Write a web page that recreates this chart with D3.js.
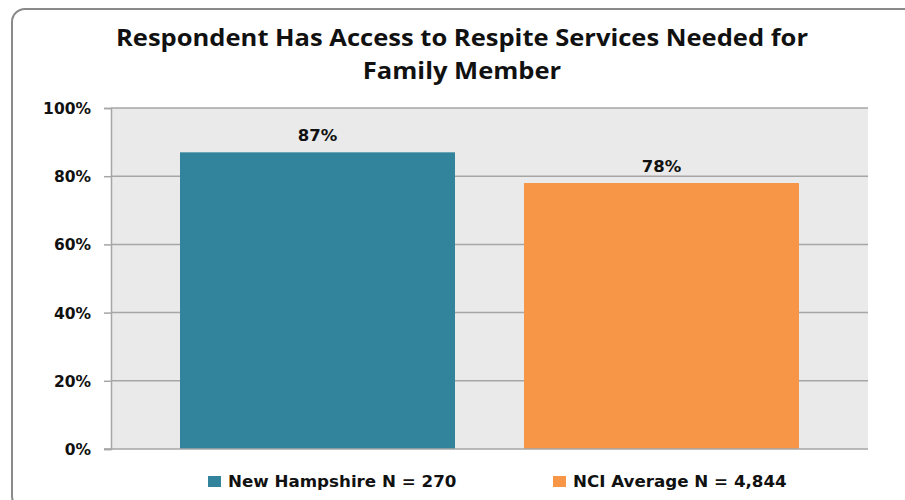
<!DOCTYPE html>
<html><head><meta charset="utf-8">
<script src="https://cdn.jsdelivr.net/npm/d3@7"></script>
<style>html,body{margin:0;padding:0;background:#fff;}svg{display:block;}</style>
</head><body>
<svg id="c" width="905" height="500"></svg>
<script>
const titleLines = ["Respondent Has Access to Respite Services Needed for", "Family Member"];
const series = ["New Hampshire N = 270", "NCI Average N = 4,844"];
const values = [87, 78];
const colors = ["#31849B", "#F79646"];
const yTicks = [0, 20, 40, 60, 80, 100];

const svg = d3.select("#c");
const W = 905, H = 500;
const plot = {left: 111, right: 868, top: 108, bottom: 449};

// outer frame
svg.append("rect").attr("x", 12).attr("y", 9).attr("width", 905).attr("height", 500)
  .attr("rx", 13).attr("ry", 13).attr("fill", "#fff").attr("stroke", "#8a8a8a").attr("stroke-width", 2);

// title
const tg = svg.append("g").attr("font-family", "'Open Sans', sans-serif").attr("font-weight", 700)
  .attr("font-size", 24).attr("fill", "#111").attr("text-anchor", "middle");
const t1 = tg.append("text").attr("x", 462).attr("y", 46).text(titleLines[0]);
const nat1 = t1.node().getComputedTextLength();
const ratio = 692 / nat1;
t1.attr("textLength", 692).attr("lengthAdjust", "spacingAndGlyphs");
const t2 = tg.append("text").attr("x", 462).attr("y", 79).text(titleLines[1]);
const nat2 = t2.node().getComputedTextLength();
t2.attr("textLength", nat2 * ratio).attr("lengthAdjust", "spacingAndGlyphs");

// scales
const y = d3.scaleLinear().domain([0, 100]).range([plot.bottom, plot.top]);
const x = d3.scaleBand().domain(series).range([plot.left, plot.right]).paddingInner(0.2006).paddingOuter(0.2006);

// plot bg
svg.append("rect").attr("x", plot.left).attr("y", plot.top)
  .attr("width", plot.right - plot.left).attr("height", plot.bottom - plot.top).attr("fill", "#EAEAEA");

// gridlines
svg.append("g").selectAll("line").data(yTicks.filter(d => d > 0)).join("line")
  .attr("x1", plot.left).attr("x2", plot.right)
  .attr("y1", d => y(d)).attr("y2", d => y(d))
  .attr("stroke", "#A6A6A6").attr("stroke-width", 1.5);

// y axis
const yAxis = d3.axisLeft(y).tickValues(yTicks).tickFormat(d => d + "%").tickSize(7).tickPadding(13);
const ya = svg.append("g").attr("transform", `translate(${plot.left},0)`).call(yAxis);
ya.select(".domain").attr("stroke", "#A6A6A6").attr("stroke-width", 1.5);
ya.selectAll(".tick line").attr("stroke", "#A6A6A6").attr("stroke-width", 1.5);
ya.selectAll(".tick text").attr("font-family", "'DejaVu Sans', sans-serif").attr("font-weight", 700)
  .attr("font-size", 15.5).attr("fill", "#111").attr("dy", "0.35em");

// bars
svg.append("g").selectAll("rect").data(values).join("rect")
  .attr("x", (d, i) => x(series[i])).attr("width", x.bandwidth())
  .attr("y", d => y(d)).attr("height", d => plot.bottom - y(d))
  .attr("fill", (d, i) => colors[i]);

// bottom axis line
svg.append("line").attr("x1", plot.left - 7).attr("x2", plot.right)
  .attr("y1", plot.bottom).attr("y2", plot.bottom).attr("stroke", "#A6A6A6").attr("stroke-width", 1.5);

// data labels
svg.append("g").selectAll("text").data(values).join("text")
  .attr("x", (d, i) => x(series[i]) + x.bandwidth() / 2).attr("y", d => y(d) - 11)
  .attr("text-anchor", "middle").attr("font-family", "'DejaVu Sans', sans-serif").attr("font-weight", 700)
  .attr("font-size", 16.5).attr("fill", "#111").text(d => d + "%");

// legend
const legX = [208, 553];
const lg = svg.append("g");
series.forEach((s, i) => {
  lg.append("rect").attr("x", legX[i]).attr("y", 476).attr("width", 13).attr("height", 11).attr("fill", colors[i]);
  lg.append("text").attr("x", legX[i] + 20).attr("y", 487).attr("font-family", "'DejaVu Sans', sans-serif")
    .attr("font-weight", 700).attr("font-size", 16.7).attr("fill", "#111").text(s);
});
</script>
</body></html>
